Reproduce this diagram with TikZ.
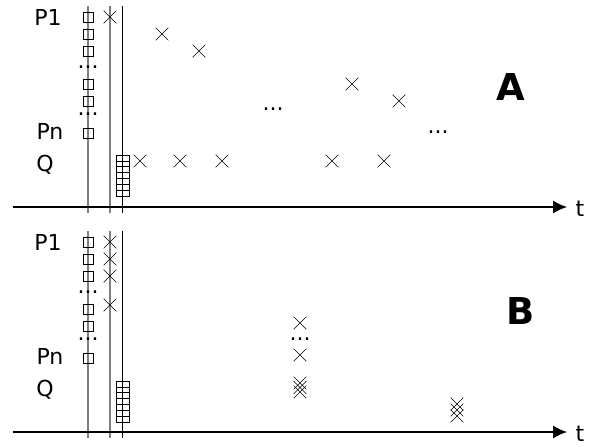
\documentclass[tikz,border=0pt]{standalone}
\usepackage{fontspec}
\setmainfont{DejaVu Sans}
\usetikzlibrary{arrows.meta,shapes.misc}

\begin{document}
\begin{tikzpicture}[x=1pt, y=-1pt,
  evt/.style={cross out, draw, line width=0.6pt, minimum size=12pt, inner sep=0pt},
  slot/.style={draw, line width=0.6pt, minimum size=10pt, inner sep=0pt},
  lbl/.style={font=\fontsize{22}{24}\selectfont},
  tag/.style={font=\fontsize{37}{40}\selectfont\bfseries},
  guide/.style={line width=1.5pt, black!50}]
  \useasboundingbox (0,0) rectangle (597,447);
  % the frame shared by both panels: lanes, time axis, process slots
  \foreach \off/\pn in {0/A, 225/B} {
    \begin{scope}[yshift=-\off pt]
      \draw[guide] (88,6) -- (88,213);
      \draw[guide] (110,6) -- (110,213);
      \draw[line width=0.9pt] (122,6) -- (122,213);
      \coordinate (o\pn) at (13,207);
      \coordinate (e\pn) at (567,207);
      \draw[-{Latex[length=14pt,width=13pt]}, line width=1.3pt] (o\pn) -- (e\pn);
      \node[lbl] (t\pn) at (580,209) {t};
      \node[lbl] (first\pn) at (48,17) {P1};
      \node[lbl] (last\pn) at (50,131) {Pn};
      \node[lbl] (q\pn) at (45,165) {Q};
      \foreach \y [count=\i] in {17,34,51,84,101,133}
        \node[slot] (s\pn\i) at (88,\y) {};
      \node[lbl] (dot\pn1) at (88,67) {...};
      \node[lbl] (dot\pn2) at (88,114) {...};
    \end{scope}
  }
  % queue stacks
  \foreach \k in {0,...,6} {
    \draw[line width=0.6pt] (116,155+5.86*\k) rectangle +(13,5.86);
    \draw[line width=0.6pt] (116,381+5.86*\k) rectangle +(13,5.86);
  }
  % panel A: events spread over time
  \foreach \x/\y [count=\i] in {110/17, 162/34, 199/51, 352/84, 399/101,
      140/161, 180/161, 222/161, 332/161, 384/161}
    \node[evt] (xa\i) at (\x,\y) {};
  \node[lbl] (ga1) at (273,109) {...};
  \node[lbl] (ga2) at (438,132) {...};
  \node[tag] (labA) at (511,87) {A};
  % panel B: events bunched together
  \foreach \x/\y [count=\i] in {110/242, 110/259, 110/276, 110/305,
      300/323, 300/355, 300/383, 300/387.5, 300/392,
      457/404, 457/410, 457/416}
    \node[evt] (xb\i) at (\x,\y) {};
  \node[lbl] (gb1) at (300,339) {...};
  \node[tag] (labB) at (521,311) {B};
\end{tikzpicture}
\end{document}
